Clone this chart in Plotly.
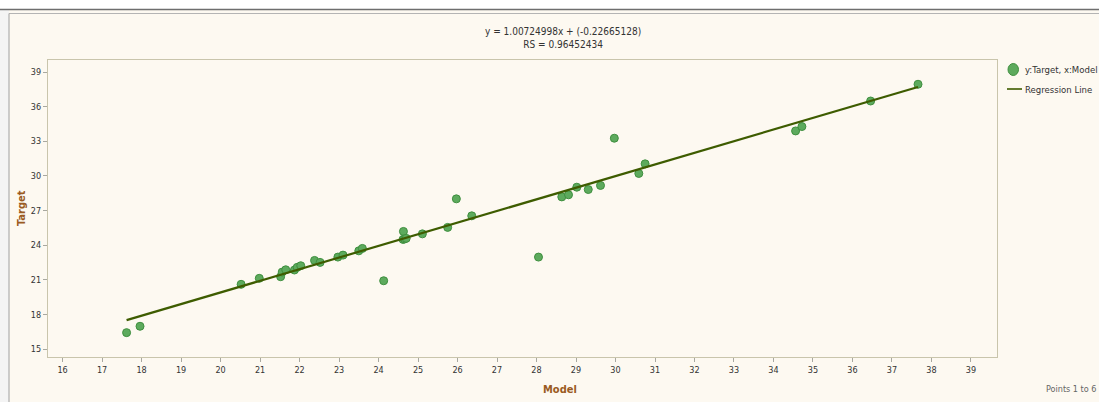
import plotly.graph_objects as go

# Data
model = [17.62, 17.96, 20.52, 20.98, 21.52, 21.56, 21.65, 21.87, 21.94, 22.03,
         22.38, 22.52, 22.97, 23.10, 23.50, 23.59, 24.13, 24.63, 24.62, 24.66,
         24.70, 25.11, 25.75, 25.97, 26.36, 28.05, 28.64, 28.81, 29.02, 29.31,
         29.62, 29.97, 30.59, 30.75, 34.56, 34.72, 36.46, 37.66]
target = [16.44, 16.99, 20.62, 21.14, 21.28, 21.68, 21.88, 21.86, 22.09, 22.23,
          22.69, 22.52, 22.98, 23.15, 23.52, 23.73, 20.93, 25.20, 24.51, 24.55,
          24.60, 24.99, 25.55, 28.02, 26.55, 22.98, 28.19, 28.37, 29.03, 28.83,
          29.18, 33.27, 30.22, 31.05, 33.90, 34.28, 36.49, 37.94]
slope = 1.00724998
intercept = -0.22665128
rs = 0.96452434
x_ticks = list(range(16, 40))
y_ticks = [15, 18, 21, 24, 27, 30, 33, 36, 39]
series_names = ["y:Target, x:Model", "Regression Line"]

W, H = 1099, 402
ML, MR, MT, MB = 48, 102, 60, 45
pw = W - ML - MR
ph = H - MT - MB

def px(x):
    return (x - ML) / pw

def py(y):
    return 1 - (y - MT) / ph

cream = "#FDF9F1"
font_main = "Liberation Sans Narrow, DejaVu Sans Condensed, Arial Narrow, sans-serif"
pt_fill = "#5DAA5D"
pt_edge = "#3F8F3F"
line_col = "#3E5C00"

xmin, xmax = min(model), max(model)
line_x = [xmin, xmax]
line_y = [slope * v + intercept for v in line_x]

fig = go.Figure()
fig.add_trace(go.Scatter(
    x=model, y=target, mode="markers", name=series_names[0], showlegend=False,
    marker=dict(size=8, color=pt_fill, line=dict(color=pt_edge, width=1)),
))
fig.add_trace(go.Scatter(
    x=line_x, y=line_y, mode="lines", name=series_names[1], showlegend=False,
    line=dict(color=line_col, width=2.2),
))

axis_common = dict(
    showgrid=False, zeroline=False, showline=True, linecolor="#C9C5AC",
    linewidth=1.2, mirror=True, ticks="outside", ticklen=4, tickcolor="#A8A8A0",
    tickfont=dict(family=font_main, size=9, color="#333333"),
    automargin=False,
)

fig.update_layout(
    width=W, height=H,
    margin=dict(l=ML, r=MR, t=MT, b=MB, autoexpand=False),
    paper_bgcolor=cream, plot_bgcolor=cream,
    xaxis=dict(range=[15.63, 39.66], tickvals=x_ticks, **axis_common),
    yaxis=dict(range=[14.33, 40.04], tickvals=y_ticks, **axis_common),
    showlegend=False,
    font=dict(family=font_main),
)

# Top white strip and frame lines
fig.add_shape(type="rect", xref="paper", yref="paper", x0=px(0), x1=px(W), y0=py(0), y1=py(9.5),
              fillcolor="white", line=dict(width=0), layer="below")
fig.add_shape(type="rect", xref="paper", yref="paper", x0=px(0), x1=px(9), y0=py(9.5), y1=py(H),
              fillcolor="#F4F4F4", line=dict(width=0), layer="below")
fig.add_shape(type="line", xref="paper", yref="paper", x0=px(0), x1=px(W), y0=py(9.5), y1=py(9.5),
              line=dict(color="#6E6E6E", width=1.3))
fig.add_shape(type="line", xref="paper", yref="paper", x0=px(9), x1=px(W), y0=py(13.5), y1=py(13.5),
              line=dict(color="#B4B4B4", width=1))
fig.add_shape(type="line", xref="paper", yref="paper", x0=px(9), x1=px(9), y0=py(13.5), y1=py(H),
              line=dict(color="#A0A0A0", width=1))

# Manual legend
fig.add_shape(type="circle", xref="paper", yref="paper",
              x0=px(1008), x1=px(1018.5), y0=py(63.5), y1=py(75.5),
              fillcolor=pt_fill, line=dict(color=pt_edge, width=1))
fig.add_annotation(xref="paper", yref="paper", x=px(1023), y=py(69.5), xanchor="left",
                   yanchor="middle", text=series_names[0], showarrow=False,
                   font=dict(family=font_main, size=9.5, color="#333333"))
fig.add_shape(type="line", xref="paper", yref="paper", x0=px(1007), x1=px(1022),
              y0=py(89), y1=py(89), line=dict(color=line_col, width=1.6))
fig.add_annotation(xref="paper", yref="paper", x=px(1023), y=py(89), xanchor="left",
                   yanchor="middle", text=series_names[1], showarrow=False,
                   font=dict(family=font_main, size=9.5, color="#333333"))

fig.add_annotation(
    xref="paper", yref="paper", x=px(563), y=py(38), xanchor="center", yanchor="middle",
    text=f"y = {slope:.8f}x + ({intercept:.8f})<br>RS = {rs:.8f}",
    showarrow=False, align="center",
    font=dict(family=font_main, size=10, color="#333333"),
)
fig.add_annotation(
    xref="paper", yref="paper", x=px(560), y=py(389), xanchor="center", yanchor="middle",
    text="<b>Model</b>", showarrow=False,
    font=dict(family=font_main, size=11, color="#9A5B22"),
)
fig.add_annotation(
    xref="paper", yref="paper", x=px(21), y=py(208), xanchor="center", yanchor="middle",
    text="<b>Target</b>", showarrow=False, textangle=-90,
    font=dict(family=font_main, size=11, color="#9A5B22"),
)
fig.add_annotation(
    xref="paper", yref="paper", x=px(1044), y=py(389), xanchor="left", yanchor="middle",
    text="Points 1 to 6", showarrow=False,
    font=dict(family=font_main, size=9, color="#666666"),
)

fig.write_html("out.html", config={"displayModeBar": False},
               post_script="document.body.style.margin='0';document.body.style.overflow='hidden';")
